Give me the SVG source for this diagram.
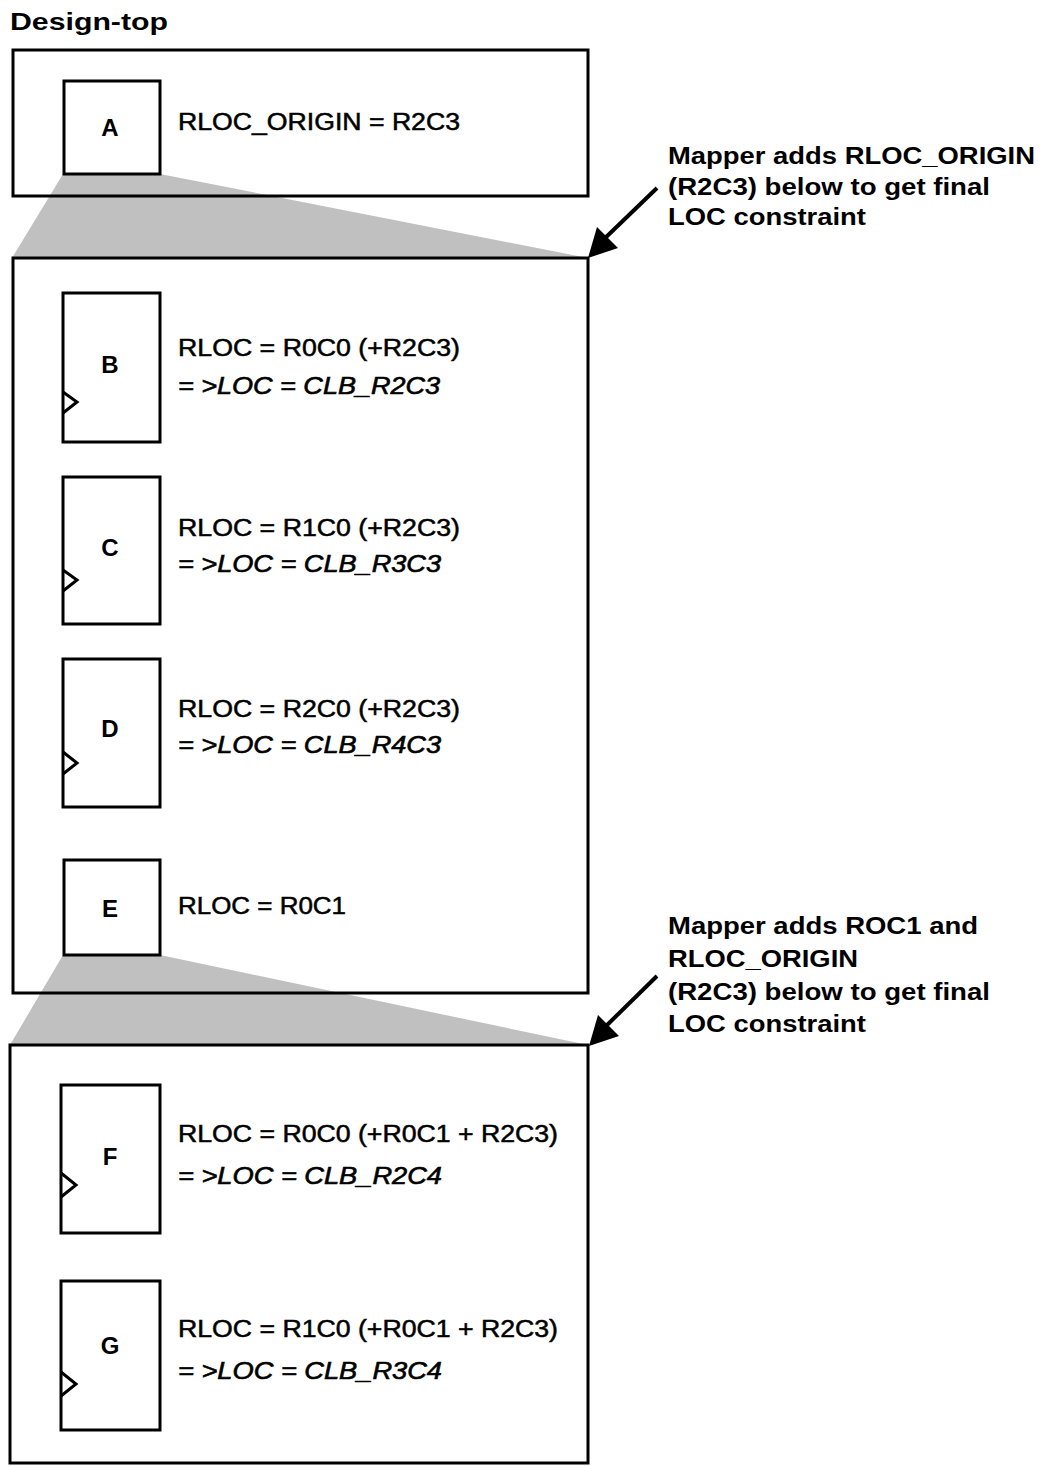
<svg xmlns="http://www.w3.org/2000/svg" width="1042" height="1466" viewBox="0 0 1042 1466">
<style>
  .box { fill: none; stroke: #000; stroke-width: 3; }
  .cell { fill: #fff; stroke: #000; stroke-width: 3; }
  .clk { fill: none; stroke: #000; stroke-width: 3; stroke-linejoin: miter; }
  .fan { fill: #c0c0c0; stroke: none; }
  .lbl { font-family: "Liberation Sans", Arial, sans-serif; font-size: 24px; font-weight: bold; text-anchor: middle; fill: #000; }
  .t { font-family: "Liberation Sans", Arial, sans-serif; font-size: 23px; fill: #000; stroke: #000; stroke-width: 0.5; }
  .ti { font-family: "Liberation Sans", Arial, sans-serif; font-size: 23px; font-style: italic; fill: #000; stroke: #000; stroke-width: 0.6; }
  .c { font-family: "Liberation Sans", Arial, sans-serif; font-size: 23px; font-weight: bold; fill: #000; }
  .ttl { font-family: "Liberation Sans", Arial, sans-serif; font-size: 24px; font-weight: bold; fill: #000; }
  .conn { stroke: #000; stroke-width: 4; fill: none; }
</style>
<rect width="1042" height="1466" fill="#fff"/>

<text class="ttl" x="10" y="30" textLength="158" lengthAdjust="spacingAndGlyphs">Design-top</text>

<g id="fans">
  <polygon class="fan" points="63,174 160,174 588,258 12,258"/>
  <polygon class="fan" points="63,955 160,955 588,1045 10,1045"/>
</g>

<g id="design-top">
  <rect class="box" x="13" y="50" width="575" height="146"/>
</g>
<g id="level2">
  <rect class="box" x="13" y="258" width="575" height="735"/>
</g>
<g id="level3">
  <rect class="box" x="10" y="1045" width="578" height="418"/>
</g>

<g id="node-A">
  <rect class="cell" x="64" y="81" width="96" height="93"/>
  <text class="lbl" x="110" y="136">A</text>
  <text class="t" x="178" y="130" textLength="282" lengthAdjust="spacingAndGlyphs">RLOC_ORIGIN = R2C3</text>
</g>

<g id="node-B">
  <rect class="cell" x="63" y="293" width="97" height="149"/>
  <polyline class="clk" points="63,392 77,402 63,413"/>
  <text class="lbl" x="110" y="373">B</text>
  <text class="t" x="178" y="356" textLength="282" lengthAdjust="spacingAndGlyphs">RLOC = R0C0 (+R2C3)</text>
  <text class="ti" x="178" y="394" textLength="262" lengthAdjust="spacingAndGlyphs">= &gt;LOC = CLB_R2C3</text>
</g>

<g id="node-C">
  <rect class="cell" x="63" y="477" width="97" height="147"/>
  <polyline class="clk" points="63,570 77,580 63,591"/>
  <text class="lbl" x="110" y="556">C</text>
  <text class="t" x="178" y="536" textLength="282" lengthAdjust="spacingAndGlyphs">RLOC = R1C0 (+R2C3)</text>
  <text class="ti" x="178" y="572" textLength="263" lengthAdjust="spacingAndGlyphs">= &gt;LOC = CLB_R3C3</text>
</g>

<g id="node-D">
  <rect class="cell" x="63" y="659" width="97" height="148"/>
  <polyline class="clk" points="63,752 77,763 63,774"/>
  <text class="lbl" x="110" y="737">D</text>
  <text class="t" x="178" y="717" textLength="282" lengthAdjust="spacingAndGlyphs">RLOC = R2C0 (+R2C3)</text>
  <text class="ti" x="178" y="753" textLength="263" lengthAdjust="spacingAndGlyphs">= &gt;LOC = CLB_R4C3</text>
</g>

<g id="node-E">
  <rect class="cell" x="64" y="860" width="96" height="95"/>
  <text class="lbl" x="110" y="917">E</text>
  <text class="t" x="178" y="914" textLength="168" lengthAdjust="spacingAndGlyphs">RLOC = R0C1</text>
</g>

<g id="node-F">
  <rect class="cell" x="61" y="1085" width="99" height="148"/>
  <polyline class="clk" points="61,1173 76,1185 61,1197"/>
  <text class="lbl" x="110" y="1165">F</text>
  <text class="t" x="178" y="1142" textLength="380" lengthAdjust="spacingAndGlyphs">RLOC = R0C0 (+R0C1 + R2C3)</text>
  <text class="ti" x="178" y="1184" textLength="264" lengthAdjust="spacingAndGlyphs">= &gt;LOC = CLB_R2C4</text>
</g>

<g id="node-G">
  <rect class="cell" x="61" y="1281" width="99" height="149"/>
  <polyline class="clk" points="61,1372 76,1384 61,1396"/>
  <text class="lbl" x="110" y="1354">G</text>
  <text class="t" x="178" y="1337" textLength="380" lengthAdjust="spacingAndGlyphs">RLOC = R1C0 (+R0C1 + R2C3)</text>
  <text class="ti" x="178" y="1379" textLength="264" lengthAdjust="spacingAndGlyphs">= &gt;LOC = CLB_R3C4</text>
</g>

<g id="note-1">
  <text class="c" x="668" y="164" textLength="367" lengthAdjust="spacingAndGlyphs">Mapper adds RLOC_ORIGIN</text>
  <text class="c" x="668" y="195" textLength="322" lengthAdjust="spacingAndGlyphs">(R2C3) below to get final</text>
  <text class="c" x="668" y="225" textLength="198" lengthAdjust="spacingAndGlyphs">LOC constraint</text>
</g>

<g id="note-2">
  <text class="c" x="668" y="934" textLength="310" lengthAdjust="spacingAndGlyphs">Mapper adds ROC1 and</text>
  <text class="c" x="668" y="967" textLength="190" lengthAdjust="spacingAndGlyphs">RLOC_ORIGIN</text>
  <text class="c" x="668" y="1000" textLength="322" lengthAdjust="spacingAndGlyphs">(R2C3) below to get final</text>
  <text class="c" x="668" y="1032" textLength="198" lengthAdjust="spacingAndGlyphs">LOC constraint</text>
</g>

<g id="connectors">
  <line class="conn" x1="657" y1="188" x2="602" y2="241"/>
  <polygon points="588,258 597,227 618,248" fill="#000"/>
  <line class="conn" x1="657" y1="976" x2="603" y2="1029"/>
  <polygon points="589,1046 598,1015 619,1036" fill="#000"/>
</g>
</svg>
